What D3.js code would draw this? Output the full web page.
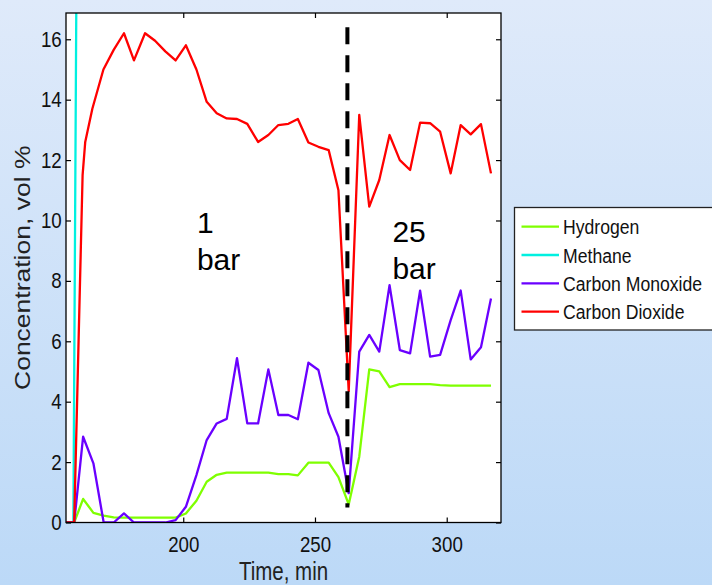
<!DOCTYPE html>
<html><head><meta charset="utf-8">
<script src="https://cdn.jsdelivr.net/npm/d3@7"></script>
<style>body{margin:0;background:#fff;} svg{display:block;}</style>
</head><body>
<svg id="chart" width="712" height="585"></svg>
<script>
// ---- data ----
const times = [155.5, 158.6, 162.0, 165.9, 169.8, 173.6, 177.5, 181.3, 185.5, 189.3, 193.2, 197.1, 201.0, 205.0, 208.9, 212.7, 216.5, 220.4, 224.3, 228.4, 232.3, 236.1, 239.9, 243.5, 247.5, 251.3, 255.2, 258.9, 262.8, 266.8, 270.6, 274.4, 278.3, 282.2, 286.1, 289.9, 293.7, 297.5, 301.5, 305.3, 309.1, 313.0, 316.8];
const hydrogen = [0, 0, 0.78, 0.32, 0.23, 0.17, 0.16, 0.16, 0.16, 0.16, 0.16, 0.16, 0.3, 0.72, 1.35, 1.58, 1.65, 1.65, 1.65, 1.65, 1.65, 1.6, 1.6, 1.56, 1.98, 1.98, 1.98, 1.5, 0.6, 2.18, 5.07, 5.0, 4.48, 4.58, 4.58, 4.58, 4.58, 4.55, 4.53, 4.53, 4.53, 4.53, 4.53];
const carbonMonoxide = [0, 0, 2.84, 1.96, 0, 0, 0.3, 0, 0, 0, 0, 0.08, 0.52, 1.57, 2.73, 3.28, 3.43, 5.44, 3.28, 3.28, 5.07, 3.56, 3.56, 3.42, 5.29, 5.05, 3.62, 2.84, 0.97, 5.66, 6.21, 5.66, 7.86, 5.71, 5.6, 7.68, 5.49, 5.55, 6.7, 7.68, 5.4, 5.8, 7.42];
const co2Times = [155.5, 158.6, 161.8, 162.8, 165.5, 169.7, 173.6, 177.5, 181.3, 185.5, 189.3, 193.2, 197.1, 201.0, 205.0, 208.9, 212.7, 216.5, 220.4, 224.3, 228.4, 232.3, 236.1, 239.9, 243.5, 247.5, 251.3, 255.2, 258.9, 262.8, 266.8, 270.6, 274.4, 278.3, 282.2, 286.1, 289.9, 293.7, 297.5, 301.5, 305.3, 309.1, 313.0, 316.8];
const carbonDioxide = [0, 0, 11.5, 12.6, 13.7, 15.0, 15.65, 16.2, 15.3, 16.2, 15.95, 15.6, 15.3, 15.8, 15.0, 13.93, 13.55, 13.38, 13.36, 13.2, 12.6, 12.83, 13.16, 13.2, 13.36, 12.58, 12.44, 12.33, 11.0, 4.35, 13.5, 10.46, 11.34, 12.83, 12.0, 11.67, 13.24, 13.22, 12.94, 11.56, 13.16, 12.85, 13.19, 11.56];
const methaneTimes = [155.5, 158.3, 159.5];
const methane = [0, 0, 18.5];
const seriesNames = ["Hydrogen", "Methane", "Carbon Monoxide", "Carbon Dioxide"];
const seriesColors = ["#7fff00", "#00f0e0", "#6a00ff", "#ff0000"];
const xTicks = [200, 250, 300];
const yTicks = [0, 2, 4, 6, 8, 10, 12, 14, 16];
const xDomain = [155.5, 320.6];
const yDomain = [0, 16.87];
const switchTime = 262.3;
const switchSpan = [0.5, 16.4];
const annoTimes = [205.2, 279.4];
const annoValues = [9.59, 9.29];
const annoLines = [["1", "bar"], ["25", "bar"]];
const xLabel = "Time, min";
const yLabel = "Concentration, vol %";

// ---- layout ----
const L = 66, R = 501, T = 13, B = 522.5;
const FONT = "'Liberation Sans', Arial, Helvetica, sans-serif";
const svg = d3.select("#chart");

const defs = svg.append("defs");
const grad = defs.append("linearGradient").attr("id", "bg").attr("x1", 0).attr("y1", 0).attr("x2", 0).attr("y2", 1);
grad.append("stop").attr("offset", "0%").attr("stop-color", "#dfeafa");
grad.append("stop").attr("offset", "100%").attr("stop-color", "#bcd9f7");
defs.append("clipPath").attr("id", "plotclip").append("rect")
  .attr("x", L).attr("y", T).attr("width", R - L).attr("height", B - T);

svg.append("rect").attr("width", 712).attr("height", 585).attr("fill", "url(#bg)");
svg.append("rect").attr("x", L).attr("y", T).attr("width", R - L).attr("height", B - T).attr("fill", "#fff");

const x = d3.scaleLinear().domain(xDomain).range([L, R]);
const y = d3.scaleLinear().domain(yDomain).range([B, T]);

const series = [
  { t: times, v: hydrogen },
  { t: methaneTimes, v: methane },
  { t: times, v: carbonMonoxide },
  { t: co2Times, v: carbonDioxide }
];
const line = d3.line().x(d => x(d[0])).y(d => y(d[1]));
const gLines = svg.append("g").attr("clip-path", "url(#plotclip)");
series.forEach((s, i) => {
  gLines.append("path")
    .datum(s.t.map((t, k) => [t, s.v[k]]))
    .attr("d", line)
    .attr("fill", "none")
    .attr("stroke", seriesColors[i])
    .attr("stroke-width", 2.3)
    .attr("stroke-linejoin", "round");
});

// dashed pressure-switch line
svg.append("line")
  .attr("x1", x(switchTime)).attr("x2", x(switchTime))
  .attr("y1", y(switchSpan[1])).attr("y2", y(switchSpan[0]))
  .attr("stroke", "#000").attr("stroke-width", 4)
  .attr("stroke-dasharray", "17,11");

// axes
function styleText(g, size, sx) {
  g.selectAll("text").attr("font-family", FONT).attr("font-size", size).attr("fill", "#111")
    .attr("transform", `scale(${sx},1)`);
}
const gl = svg.append("g").attr("transform", `translate(${L},0)`)
  .call(d3.axisLeft(y).tickValues(yTicks).tickSizeInner(-5).tickSizeOuter(0).tickPadding(5));
const gb = svg.append("g").attr("transform", `translate(0,${B})`)
  .call(d3.axisBottom(x).tickValues(xTicks).tickSizeInner(-5).tickSizeOuter(0).tickPadding(14));
const gr = svg.append("g").attr("transform", `translate(${R},0)`)
  .call(d3.axisRight(y).tickValues(yTicks).tickSizeInner(-5).tickSizeOuter(0).tickFormat(""));
const gt = svg.append("g").attr("transform", `translate(0,${T})`)
  .call(d3.axisTop(x).tickValues(xTicks).tickSizeInner(-5).tickSizeOuter(0).tickFormat(""));
[gl, gb, gr, gt].forEach(g => {
  g.select(".domain").remove();
  g.selectAll(".tick line").attr("stroke", "#000").attr("stroke-width", 1.2);
});
styleText(gl, 22, 0.85);
styleText(gb, 22, 0.85);

svg.append("rect").attr("x", L).attr("y", T).attr("width", R - L).attr("height", B - T)
  .attr("fill", "none").attr("stroke", "#000").attr("stroke-width", 1.3);

// axis labels
svg.append("text").attr("transform", `translate(${(L + R) / 2},579.5) scale(0.82,1)`)
  .attr("text-anchor", "middle").attr("font-family", FONT).attr("font-size", 25).attr("fill", "#222")
  .text(xLabel);
svg.append("text").attr("transform", `translate(30,${(T + B) / 2}) rotate(-90) scale(1,0.84)`)
  .attr("text-anchor", "middle").attr("font-family", FONT).attr("font-size", 26.5).attr("fill", "#222")
  .text(yLabel);

// annotations
annoLines.forEach((lines, i) => {
  const t = svg.append("text").attr("x", x(annoTimes[i])).attr("y", y(annoValues[i]))
    .attr("font-family", FONT).attr("font-size", 30).attr("fill", "#000");
  lines.forEach((s, k) => {
    t.append("tspan").attr("x", x(annoTimes[i])).attr("dy", k === 0 ? 0 : 37).text(s);
  });
});

// legend
const lg = svg.append("g").attr("transform", "translate(514.5,207.5)");
lg.append("rect").attr("width", 230).attr("height", 122.5).attr("fill", "#fff")
  .attr("stroke", "#222").attr("stroke-width", 1.3);
seriesNames.forEach((name, i) => {
  const cy = 19.2 + i * 28.3;
  lg.append("line").attr("x1", 7).attr("x2", 44.5).attr("y1", cy).attr("y2", cy)
    .attr("stroke", seriesColors[i]).attr("stroke-width", 2.3);
  lg.append("text").attr("transform", `translate(48.5,${cy + 7.5}) scale(0.84,1)`)
    .attr("font-family", FONT).attr("font-size", 21).attr("fill", "#111").text(name);
});
</script>
</body></html>
